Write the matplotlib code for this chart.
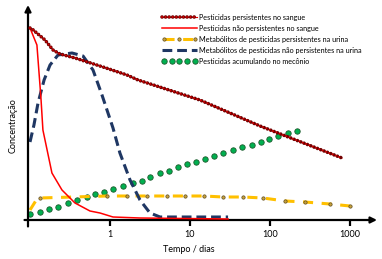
import matplotlib
matplotlib.use('Agg')
import matplotlib.pyplot as plt
from matplotlib.legend_handler import HandlerLine2D
from matplotlib.ticker import NullLocator

plt.rcParams['font.family'] = ['Lato', 'DejaVu Sans']

# Pesticidas persistentes no sangue (red, dotted)
blood_pers_days = [0.1, 0.106, 0.154, 0.194, 0.237, 0.365, 0.818, 1.63, 2.24, 13.3, 75, 794]
blood_pers_conc = [192, 191, 180, 170, 166, 162, 153, 145, 140, 120, 94, 62]

# Pesticidas nao persistentes no sangue (red solid)
blood_np_days = [0.1, 0.122, 0.137, 0.145, 0.188, 0.251, 0.365, 0.562, 0.75, 1.09, 2.37, 29.9]
blood_np_conc = [192, 175, 122, 90, 47, 30, 17, 9, 7, 3, 2, 1]

# Metabolitos persistentes na urina (yellow dash + dots)
urine_pers_days = [0.1, 0.122, 0.133, 0.917, 1.63, 2.9, 5.16, 8.66, 15.0, 25.8, 46.0, 81.7,
                   154, 274, 562, 1000]
urine_pers_conc = [10, 21, 22, 24, 24, 24, 24, 24, 24, 23, 23, 22, 19, 18, 16, 14]

# Metabolitos nao persistentes na urina (navy dashed)
urine_np_days = [0.1, 0.112, 0.126, 0.15, 0.178, 0.224, 0.335, 0.46, 0.613, 0.794, 1.09,
                 1.33, 1.78, 2.37, 3.16, 4.22, 29.9]
urine_np_conc = [78, 95, 117, 140, 155, 165, 167, 164, 150, 125, 92, 67, 40, 20, 7, 3, 3]

# Pesticidas acumulando no meconio (green dots)
mec_days = [0.1, 0.133, 0.173, 0.224, 0.299, 0.387, 0.516, 0.649, 0.841, 1.09, 1.45, 1.94,
            2.51, 3.16, 4.22, 5.46, 7.08, 9.17, 11.9, 15.4, 20.0, 25.8, 34.5, 44.7, 59.6,
            77.2, 97.2, 126, 168, 218]
mec_conc = [6, 8, 11, 13, 17, 20, 23, 26, 28, 31, 34, 37, 39, 43, 47, 49, 53, 56, 58, 61,
            64, 67, 70, 73, 75, 78, 81, 84, 87, 89]

xticks = [1, 10, 100, 1000]
xticklabels = ['1', '10', '100', '1000']

labels = ['Pesticidas persistentes no sangue',
          'Pesticidas não persistentes no sangue',
          'Metabólitos de pesticidas persistentes na urina',
          'Metabólitos de pesticidas não persistentes na urina',
          'Pesticidas acumulando no mecônio']

fig = plt.figure(figsize=(3.82, 2.59), dpi=100)
ax = fig.add_axes([28/382, 39/259, 349/382, 215/259])
ax.set_xscale('log')

# green dots
mec, = ax.plot(mec_days, mec_conc, ls='none', marker='o', ms=3.9,
               mfc='#00b050', mec='#1d5a2c', mew=0.6, zorder=2)

# yellow dashes with little dots
uri_p, = ax.plot(urine_pers_days, urine_pers_conc, color='#ffc000', lw=2.2,
                 dashes=(3.3, 2.8), marker='o', ms=2.4, mfc='#c9a23c', mec='#5b4a1e',
                 mew=0.5, markevery=slice(2, None), zorder=2)

# navy dashed
uri_np, = ax.plot(urine_np_days, urine_np_conc, color='#1f3763', lw=2.2,
                  dashes=(3.2, 1.6), zorder=3)

# red solid
bl_np, = ax.plot(blood_np_days, blood_np_conc, color='#ff0000', lw=1.1, zorder=4)

# red dotted: thin line + dark ring dots + red fill dots
bl_line, = ax.plot(blood_pers_days, blood_pers_conc, color='#e00000', lw=0.8, zorder=5)
bl_dark, = ax.plot(blood_pers_days, blood_pers_conc, color='#6e0000', lw=2.6,
                   ls=(0, (0.01, 0.98)), dash_capstyle='round', zorder=5)
bl_red, = ax.plot(blood_pers_days, blood_pers_conc, color='#d40000', lw=1.4,
                  ls=(0, (0.01, 1.82)), dash_capstyle='round', zorder=5)

ax.set_xlim(0.0944, 2175)
ax.set_ylim(0, 215)
for s in ax.spines.values():
    s.set_visible(False)
ax.set_yticks([])
ax.set_xticks(xticks)
ax.set_xticklabels(xticklabels, fontsize=6.5)
ax.xaxis.set_minor_locator(NullLocator())
ax.tick_params(axis='x', length=4, width=1.6, pad=3)

# arrow axes
ax.annotate('', xy=(1, 0), xytext=(-0.01, 0), xycoords='axes fraction',
            arrowprops=dict(arrowstyle='-|>', lw=1.6, color='black', mutation_scale=9,
                            shrinkA=0, shrinkB=0))
ax.annotate('', xy=(0, 1), xytext=(0, -0.03), xycoords='axes fraction',
            arrowprops=dict(arrowstyle='-|>', lw=1.6, color='black', mutation_scale=9,
                            shrinkA=0, shrinkB=0))

fig.text(189/382, 1 - 249/259, 'Tempo / dias', ha='center', va='center', fontsize=6.5)
fig.text(13/382, 1 - 126/259, 'Concentração', ha='center', va='center', fontsize=6.5,
         rotation=90)

ax.legend([(bl_line, bl_dark, bl_red), bl_np, uri_p, uri_np, mec], labels,
          loc='upper left', bbox_to_anchor=((162 - 28)/349, 1 - 9/215),
          frameon=False, fontsize=5.2, handlelength=4.8, handletextpad=0.3,
          labelspacing=0.55, borderpad=0, borderaxespad=0,
          handler_map={uri_p: HandlerLine2D(numpoints=3),
                       mec: HandlerLine2D(numpoints=5)})

fig.savefig('out.png', dpi=100)
